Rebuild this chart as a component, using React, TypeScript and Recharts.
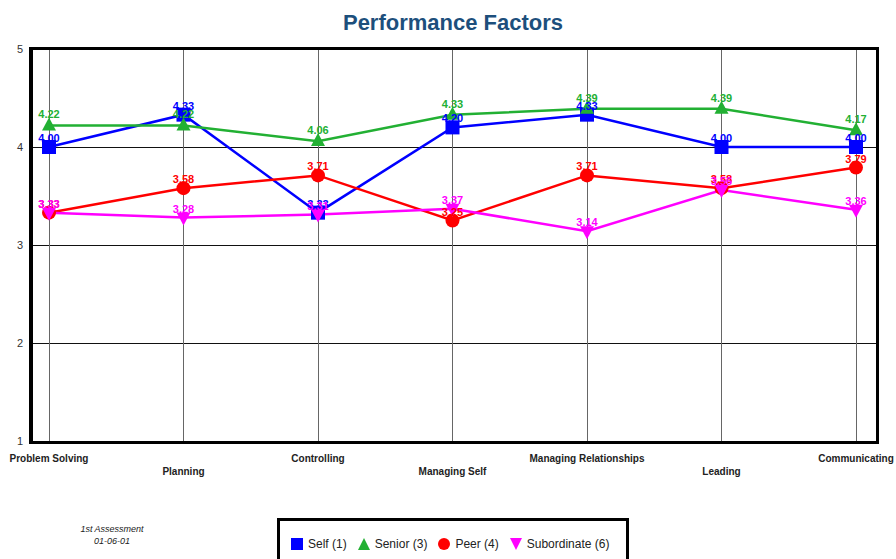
import {
  LineChart,
  Line,
  XAxis,
  YAxis,
  CartesianGrid,
  LabelList,
} from "recharts";

const factors = [
  "Problem Solving",
  "Planning",
  "Controlling",
  "Managing Self",
  "Managing Relationships",
  "Leading",
  "Communicating",
];
const selfScores = [4.0, 4.33, 3.33, 4.2, 4.33, 4.0, 4.0];
const seniorScores = [4.22, 4.22, 4.06, 4.33, 4.39, 4.39, 4.17];
const peerScores = [3.33, 3.58, 3.71, 3.25, 3.71, 3.58, 3.79];
const subordinateScores = [3.33, 3.28, 3.31, 3.37, 3.14, 3.56, 3.36];
const yTicks = [1, 2, 3, 4, 5];

const BLUE = "#0000ff";
const GREEN = "#22b033";
const RED = "#ff0000";
const MAGENTA = "#ff00ff";
const FONT = "'Liberation Sans', Arial, sans-serif";

const data = factors.map((name, i) => ({
  name,
  self: selfScores[i],
  senior: seniorScores[i],
  peer: peerScores[i],
  subordinate: subordinateScores[i],
}));

const SquareDot = (props: any) => {
  const { cx, cy } = props;
  if (cx == null || cy == null) return null;
  return <rect x={cx - 7} y={cy - 7} width={14} height={14} fill={BLUE} />;
};

const TriangleDot = (props: any) => {
  const { cx, cy } = props;
  if (cx == null || cy == null) return null;
  return <polygon points={`${cx},${cy - 8} ${cx + 7},${cy + 5} ${cx - 7},${cy + 5}`} fill={GREEN} />;
};

const CircleDot = (props: any) => {
  const { cx, cy } = props;
  if (cx == null || cy == null) return null;
  return <circle cx={cx} cy={cy} r={7} fill={RED} />;
};

const DownTriangleDot = (props: any) => {
  const { cx, cy } = props;
  if (cx == null || cy == null) return null;
  return <polygon points={`${cx - 7},${cy - 5} ${cx + 7},${cy - 5} ${cx},${cy + 8}`} fill={MAGENTA} />;
};

// labels alternate between two rows, like the original report
const StaggeredTick = (props: any) => {
  const { x, y, payload, index } = props;
  const dy = index % 2 === 0 ? 13 : 26;
  return (
    <text
      x={x}
      y={y + dy}
      textAnchor="middle"
      fontSize={10}
      fontWeight="bold"
      fontFamily={FONT}
      fill="#222"
    >
      {payload.value}
    </text>
  );
};

const fmt = (v: any) => Number(v).toFixed(2);

const labelStyle = { fontSize: 11, fontWeight: "bold", fontFamily: FONT };

const LegendItem = ({ marker, label }: { marker: any; label: string }) => (
  <span style={{ display: "inline-flex", alignItems: "center", marginRight: 10 }}>
    <svg width={14} height={14} style={{ marginRight: 4 }}>
      {marker}
    </svg>
    {label}
  </span>
);

export default function App() {
  return (
    <div
      style={{
        position: "absolute",
        left: 0,
        top: 0,
        width: 896,
        height: 559,
        background: "#fff",
        overflow: "hidden",
        fontFamily: FONT,
      }}
    >
      <div
        style={{
          position: "absolute",
          top: 10,
          left: 0,
          width: 906,
          textAlign: "center",
          fontSize: 22,
          fontWeight: "bold",
          color: "#1d4f7c",
        }}
      >
        Performance Factors
      </div>

      <LineChart
        width={896}
        height={559}
        data={data}
        margin={{ top: 49, right: 19, left: 0, bottom: 78 }}
      >
        <CartesianGrid
          horizontal={true}
          vertical={false}
          stroke="#111"
          strokeOpacity={1}
          shapeRendering="crispEdges"
        />
        <CartesianGrid
          horizontal={false}
          vertical={true}
          stroke="#666"
          strokeOpacity={1}
          shapeRendering="crispEdges"
        />
        <XAxis
          dataKey="name"
          height={40}
          padding={{ left: 18, right: 21 }}
          axisLine={false}
          tickLine={false}
          interval={0}
          tick={<StaggeredTick />}
        />
        <YAxis
          width={31}
          domain={[1, 5]}
          ticks={yTicks}
          axisLine={false}
          tickLine={false}
          tick={{ fill: "#333", fontSize: 11, fontFamily: FONT }}
        />
        <Line
          dataKey="self"
          stroke={BLUE}
          strokeWidth={2.5}
          dot={<SquareDot />}
          activeDot={false}
          isAnimationActive={false}
        >
          <LabelList dataKey="self" position="top" offset={5} formatter={fmt} fill={BLUE} style={labelStyle} />
        </Line>
        <Line
          dataKey="senior"
          stroke={GREEN}
          strokeWidth={2.5}
          dot={<TriangleDot />}
          activeDot={false}
          isAnimationActive={false}
        >
          <LabelList dataKey="senior" position="top" offset={7} formatter={fmt} fill={GREEN} style={labelStyle} />
        </Line>
        <Line
          dataKey="peer"
          stroke={RED}
          strokeWidth={2.5}
          dot={<CircleDot />}
          activeDot={false}
          isAnimationActive={false}
        >
          <LabelList dataKey="peer" position="top" offset={5} formatter={fmt} fill={RED} style={labelStyle} />
        </Line>
        <Line
          dataKey="subordinate"
          stroke={MAGENTA}
          strokeWidth={2.5}
          dot={<DownTriangleDot />}
          activeDot={false}
          isAnimationActive={false}
        >
          <LabelList dataKey="subordinate" position="top" offset={5} formatter={fmt} fill={MAGENTA} style={labelStyle} />
        </Line>
      </LineChart>

      {/* plot frame */}
      <div
        style={{
          position: "absolute",
          left: 29,
          top: 47,
          width: 850,
          height: 397,
          borderTop: "3px solid #000",
          borderLeft: "4px solid #000",
          borderRight: "3px solid #000",
          borderBottom: "3px solid #000",
          boxSizing: "border-box",
          pointerEvents: "none",
        }}
      />

      <div
        style={{
          position: "absolute",
          left: 62,
          top: 523,
          width: 100,
          textAlign: "center",
          fontSize: 9,
          fontStyle: "italic",
          color: "#222",
          lineHeight: "12px",
        }}
      >
        1st Assessment
        <br />
        01-06-01
      </div>

      <div
        style={{
          position: "absolute",
          left: 277,
          top: 518,
          width: 352,
          height: 60,
          border: "3px solid #000",
          boxSizing: "border-box",
          padding: "16px 0 0 10px",
          fontSize: 12,
          color: "#222",
          whiteSpace: "nowrap",
        }}
      >
        <LegendItem marker={<rect x={1} y={1} width={12} height={12} fill={BLUE} />} label="Self (1)" />
        <LegendItem marker={<polygon points="7,1 13,13 1,13" fill={GREEN} />} label="Senior (3)" />
        <LegendItem marker={<circle cx={7} cy={7} r={6} fill={RED} />} label="Peer (4)" />
        <LegendItem marker={<polygon points="1,1 13,1 7,13" fill={MAGENTA} />} label="Subordinate (6)" />
      </div>
    </div>
  );
}
